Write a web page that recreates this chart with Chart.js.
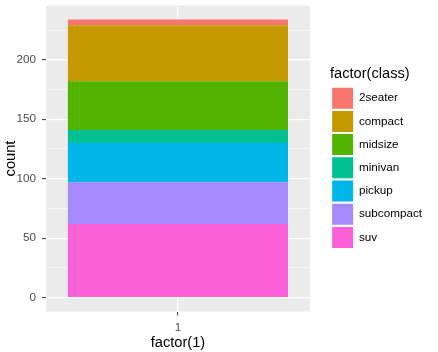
<!DOCTYPE html>
<html>
<head>
<meta charset="utf-8">
<script src="https://cdn.jsdelivr.net/npm/chart.js@4"></script>
<style>
  html, body { margin: 0; padding: 0; background: #fff; }
</style>
</head>
<body>
<canvas id="chart" width="438" height="352"></canvas>
<script>
// mpg class counts, legend order (top of stack first)
const classes = ['2seater', 'compact', 'midsize', 'minivan', 'pickup', 'subcompact', 'suv']
const counts = [5, 47, 41, 11, 33, 35, 62]
const colors = ['#F8766D', '#C49A00', '#53B400', '#00C094', '#00B6EB', '#A58AFF', '#FB61D7']
const xLabels = ['1']
const yTicks = [0, 25, 50, 75, 100, 125, 150, 175, 200, 225]

const font = 'Liberation Sans, Arial, sans-serif'
let ctx = document.getElementById('chart')

// stacking starts from the first dataset, so suv goes first
let datasets = []
for (let i = classes.length - 1; i >= 0; i--) {
    datasets.push({
        label: classes[i],
        data: [counts[i]],
        backgroundColor: colors[i],
        borderWidth: 0,
        barPercentage: 0.834,
        categoryPercentage: 1
    })
}

const panelBg = {
    id: 'panelBg',
    beforeDraw(chart) {
        const a = chart.chartArea
        chart.ctx.save()
        chart.ctx.fillStyle = '#EBEBEB'
        chart.ctx.fillRect(a.left, a.top, a.right - a.left, a.bottom - a.top)
        chart.ctx.restore()
    }
}

// push the legend a bit away from the panel
const legendGap = {
    id: 'legendGap',
    afterLayout(chart) {
        if (chart.legend) {
            chart.legend.left += 20
            chart.legend.right += 20
        }
    }
}

const isMajor = (v) => v % 50 === 0

new Chart(ctx, {
    type: 'bar',
    data: { labels: xLabels, datasets: datasets },
    plugins: [panelBg, legendGap],
    options: {
        responsive: false,
        animation: false,
        devicePixelRatio: 1,
        layout: { padding: { top: 5.5, right: 26, bottom: 0, left: 0 } },
        scales: {
            x: {
                stacked: true,
                offset: true,
                border: { display: false },
                grid: { color: '#FFFFFF', lineWidth: 1.2, offset: false, tickColor: '#333333', tickLength: 4, tickWidth: 1 },
                ticks: { color: '#4D4D4D', font: { family: font, size: 11.7 }, padding: 5 },
                title: { display: true, text: 'factor(1)', color: '#000', font: { family: font, size: 14.67 }, padding: { top: 1, bottom: 0 } },
                afterFit(scale) {
                    scale.height = 40.5
                    scale.paddingLeft = 0
                    scale.paddingRight = 0
                }
            },
            y: {
                stacked: true,
                min: -11.7,
                max: 245.7,
                border: { display: false },
                afterBuildTicks(scale) { scale.ticks = yTicks.map(v => ({ value: v })) },
                grid: {
                    color: '#FFFFFF',
                    lineWidth: (c) => isMajor(c.tick.value) ? 1.2 : 0.6,
                    tickColor: (c) => isMajor(c.tick.value) ? '#333333' : 'rgba(0,0,0,0)',
                    tickLength: 4,
                    tickWidth: 1
                },
                ticks: {
                    color: '#4D4D4D',
                    font: { family: font, size: 11.7 },
                    padding: 6,
                    callback: (v) => isMajor(v) ? String(v) : ''
                },
                title: { display: true, text: 'count', color: '#000', font: { family: font, size: 14.67 }, padding: { top: 2, bottom: 2 } },
                afterFit(scale) {
                    scale.width = 46
                    scale.paddingTop = 0
                    scale.paddingBottom = 0
                }
            }
        },
        plugins: {
            tooltip: { enabled: false },
            legend: {
                position: 'right',
                align: 'center',
                fullSize: false,
                reverse: true,
                labels: {
                    boxWidth: 21,
                    boxHeight: 21,
                    padding: 2.2,
                    color: '#000',
                    font: { family: font, size: 11.7 }
                },
                title: {
                    display: true,
                    text: 'factor(class)',
                    position: 'start',
                    color: '#000',
                    font: { family: font, size: 14.67 },
                    padding: { top: 0, bottom: 1 }
                }
            }
        }
    }
})
</script>
</body>
</html>
